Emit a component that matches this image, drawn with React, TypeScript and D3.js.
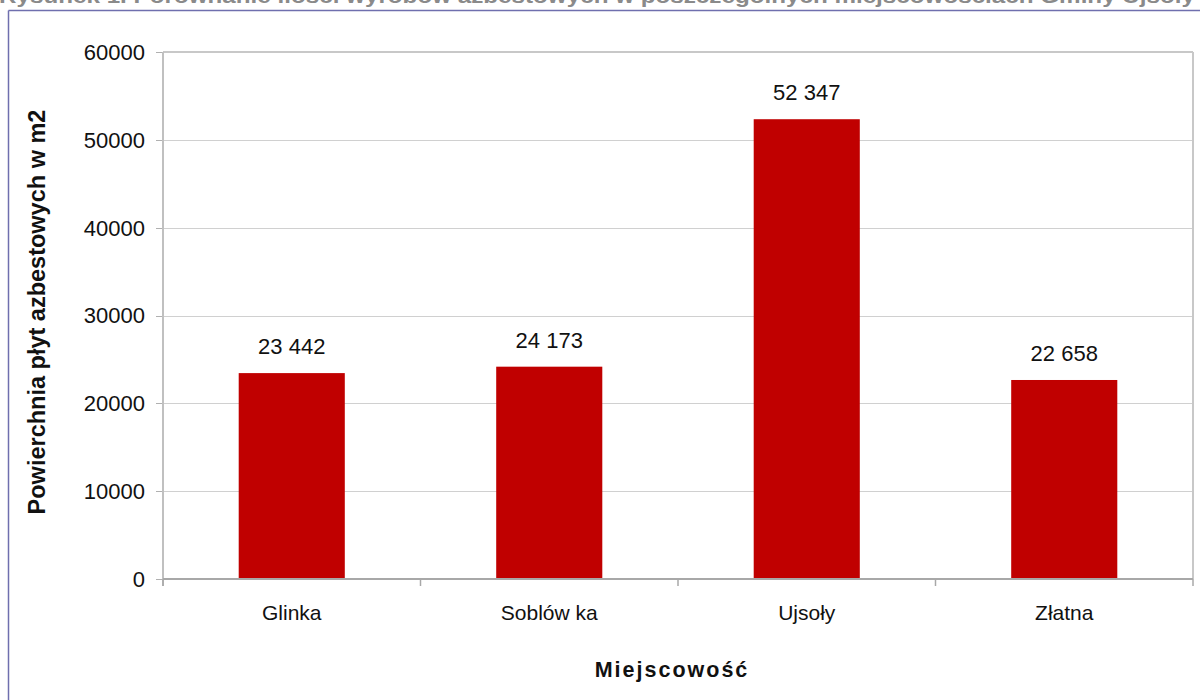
import React from "react";
import * as d3 from "d3";

const categories = ["Glinka", "Soblów ka", "Ujsoły", "Złatna"];
const values = [23442, 24173, 52347, 22658];
const valueLabels = ["23 442", "24 173", "52 347", "22 658"];
const yTicks = [0, 10000, 20000, 30000, 40000, 50000, 60000];

const W = 1200;
const H = 700;
const left = 163;
const right = 1193;
const top = 52;
const bottom = 579;

export default function App() {
  const x = d3.scaleBand<string>().domain(categories).range([left, right]).paddingInner(0.588).paddingOuter(0.294);
  const y = d3.scaleLinear().domain([0, 60000]).range([bottom, top]);
  const step = x.step();
  const font = "'Liberation Sans', Arial, sans-serif";
  const boundaries = d3.range(categories.length + 1).map((i) => left + i * step);

  return (
    <svg width={W} height={H} style={{ position: "fixed", left: 0, top: 0, background: "#fff" }} fontFamily={font}>
      <rect x={0} y={0} width={W} height={H} fill="#fff" />
      <text x={-1} y={3} fontSize={21} fontWeight="bold" fill="#8a8a8a" textLength={1196} lengthAdjust="spacingAndGlyphs">
        Rysunek 1. Porównanie ilości wyrobów azbestowych w poszczególnych miejscowościach Gminy Ujsoły
      </text>
      <line x1={8.5} y1={10.5} x2={W} y2={10.5} stroke="#6f6fae" strokeWidth={1.5} />
      <line x1={8.5} y1={10.5} x2={8.5} y2={H} stroke="#6f6fae" strokeWidth={1.5} />

      {yTicks.map((t) => (
        <g key={t}>
          {t > 0 && <line x1={left} x2={right} y1={Math.round(y(t)) + 0.5} y2={Math.round(y(t)) + 0.5} stroke="#d0d0d0" strokeWidth={1} />}
          <line x1={156} x2={left} y1={Math.round(y(t)) + 0.5} y2={Math.round(y(t)) + 0.5} stroke="#b0b0b0" strokeWidth={1} />
          <text x={145} y={y(t)} dy="0.36em" textAnchor="end" fontSize={22} fill="#111">
            {t}
          </text>
        </g>
      ))}

      <line x1={left} x2={right} y1={top} y2={top} stroke="#c8c8c8" strokeWidth={2} />
      <line x1={right} x2={right} y1={top} y2={bottom} stroke="#c8c8c8" strokeWidth={2} />

      {categories.map((c, i) => (
        <g key={c}>
          <rect x={x(c)} y={y(values[i])} width={x.bandwidth()} height={bottom - y(values[i])} fill="#c00000" />
          <text x={(x(c) as number) + x.bandwidth() / 2} y={y(values[i]) - 27} dy="0.36em" textAnchor="middle" fontSize={22} fill="#111">
            {valueLabels[i]}
          </text>
          <text x={(x(c) as number) + x.bandwidth() / 2} y={612} dy="0.36em" textAnchor="middle" fontSize={21} fill="#111">
            {c}
          </text>
        </g>
      ))}

      <line x1={left} x2={left} y1={top} y2={bottom + 7} stroke="#c0c0c0" strokeWidth={2} />
      <line x1={left} x2={right} y1={bottom} y2={bottom} stroke="#a8a8a8" strokeWidth={2} />
      {boundaries.map((b, i) => (
        <line key={i} x1={b} x2={b} y1={bottom} y2={bottom + 7} stroke="#a8a8a8" strokeWidth={1.5} />
      ))}

      <text transform={`translate(37, ${(107 + 517) / 2}) rotate(-90)`} textAnchor="middle" dy="0.36em" fontSize={23.5} fontWeight="bold" fill="#111">
        Powierchnia płyt azbestowych w m2
      </text>
      <text x={672} y={669} dy="0.36em" textAnchor="middle" fontSize={21.5} fontWeight="bold" fill="#111" letterSpacing={2}>
        Miejscowość
      </text>
    </svg>
  );
}
